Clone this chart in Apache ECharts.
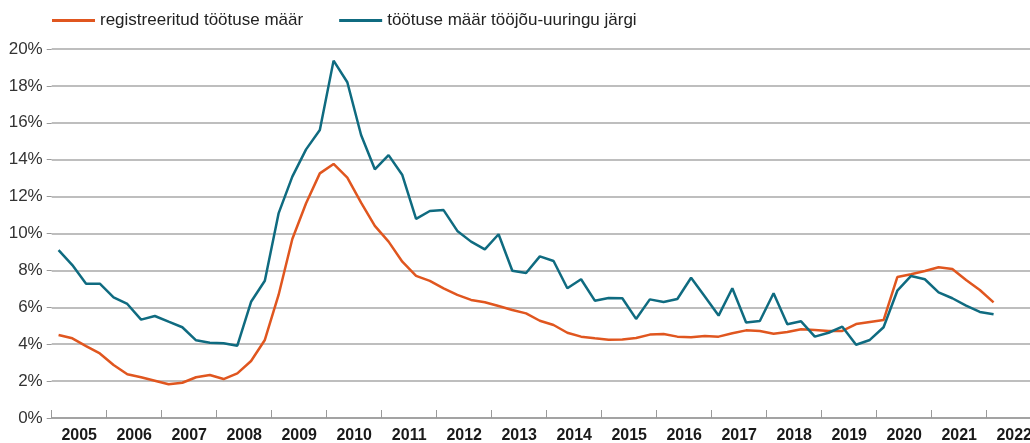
<!DOCTYPE html>
<html>
<head>
<meta charset="utf-8">
<script src="https://cdn.jsdelivr.net/npm/echarts@6/dist/echarts.min.js"></script>
<style>
html,body{margin:0;padding:0;background:#fff;}
#chart{width:1030px;height:443px;}
</style>
</head>
<body>
<div id="chart"></div>
<script>
const years = ['2005','2006','2007','2008','2009','2010','2011','2012','2013','2014','2015','2016','2017','2018','2019','2020','2021','2022'];
const seriesNames = ['registreeritud töötuse määr', 'töötuse määr tööjõu-uuringu järgi'];
// quarterly values, 2005 Q1 .. 2022 Q1
const registered = [
  4.50, 4.32, 3.90, 3.50, 2.87, 2.37, 2.21, 2.02, 1.83, 1.91, 2.21, 2.33, 2.11, 2.42, 3.09, 4.23,
  6.67, 9.70, 11.64, 13.26, 13.77, 13.03, 11.67, 10.41, 9.56, 8.47, 7.70, 7.43, 7.03, 6.67, 6.40, 6.27,
  6.07, 5.85, 5.67, 5.27, 5.04, 4.62, 4.41, 4.32, 4.24, 4.26, 4.34, 4.52, 4.55, 4.41, 4.38, 4.44,
  4.41, 4.59, 4.75, 4.72, 4.57, 4.66, 4.81, 4.77, 4.72, 4.72, 5.09, 5.20, 5.31, 7.64, 7.79, 7.97,
  8.17, 8.08, 7.48, 6.94, 6.27
];
const surveyed = [
  9.10, 8.29, 7.28, 7.28, 6.54, 6.18, 5.33, 5.53, 5.22, 4.92, 4.21, 4.08, 4.05, 3.92, 6.30, 7.44,
  11.09, 13.08, 14.56, 15.61, 19.37, 18.20, 15.34, 13.48, 14.25, 13.17, 10.79, 11.22, 11.27, 10.14, 9.56, 9.14,
  9.96, 7.98, 7.86, 8.76, 8.51, 7.03, 7.52, 6.36, 6.50, 6.49, 5.37, 6.43, 6.29, 6.45, 7.60, 6.58,
  5.55, 7.03, 5.18, 5.26, 6.76, 5.08, 5.24, 4.41, 4.62, 4.95, 3.97, 4.23, 4.92, 6.90, 7.70, 7.52,
  6.81, 6.49, 6.09, 5.75, 5.62
];
const quarters = [];
years.forEach(y => { for (let q = 1; q <= 4; q++) quarters.push(y + ' Q' + q); });

const FONT = '"Liberation Sans", Arial, Helvetica, sans-serif';
const chart = echarts.init(document.getElementById('chart'), null, {renderer: 'canvas'});
chart.setOption({
  animation: false,
  backgroundColor: '#ffffff',
  textStyle: {fontFamily: FONT},
  legend: {
    top: 12, left: 52, padding: 0,
    itemWidth: 43, itemHeight: 3, itemGap: 36,
    icon: 'rect',
    textStyle: {fontSize: 17, color: '#222', fontFamily: FONT},
    data: seriesNames
  },
  grid: {left: 51.7, right: -11.7, top: 49, bottom: 25, containLabel: false, outerBoundsMode: 'none'},
  xAxis: [
    {type: 'category', data: quarters, boundaryGap: true, show: false},
    {
      type: 'category', data: years, boundaryGap: true, position: 'bottom',
      axisLine: {show: true, lineStyle: {color: '#9a9a9a', width: 1.5}},
      axisTick: {show: true, inside: true, length: 8, alignWithLabel: false, interval: 0, lineStyle: {color: '#9a9a9a', width: 1}},
      axisLabel: {interval: 0, margin: 10, fontSize: 16, fontWeight: 'bold', color: '#1a1a1a', fontFamily: FONT},
      splitLine: {show: false}
    }
  ],
  yAxis: {
    type: 'value', min: 0, max: 20, interval: 2,
    axisLine: {show: false},
    axisTick: {show: true, length: 5, lineStyle: {color: '#9a9a9a'}},
    axisLabel: {formatter: '{value}%', fontSize: 17, color: '#333', margin: 9, fontFamily: FONT},
    splitLine: {show: true, lineStyle: {color: '#a8a8a8', width: 1.5}}
  },
  series: [
    {
      name: seriesNames[0], type: 'line', xAxisIndex: 0, data: registered,
      symbol: 'none', color: '#e0561f',
      lineStyle: {width: 2.5, color: '#e0561f'}
    },
    {
      name: seriesNames[1], type: 'line', xAxisIndex: 0, data: surveyed,
      symbol: 'none', color: '#0f6b80',
      lineStyle: {width: 2.5, color: '#0f6b80'}
    }
  ]
});
</script>
</body>
</html>
